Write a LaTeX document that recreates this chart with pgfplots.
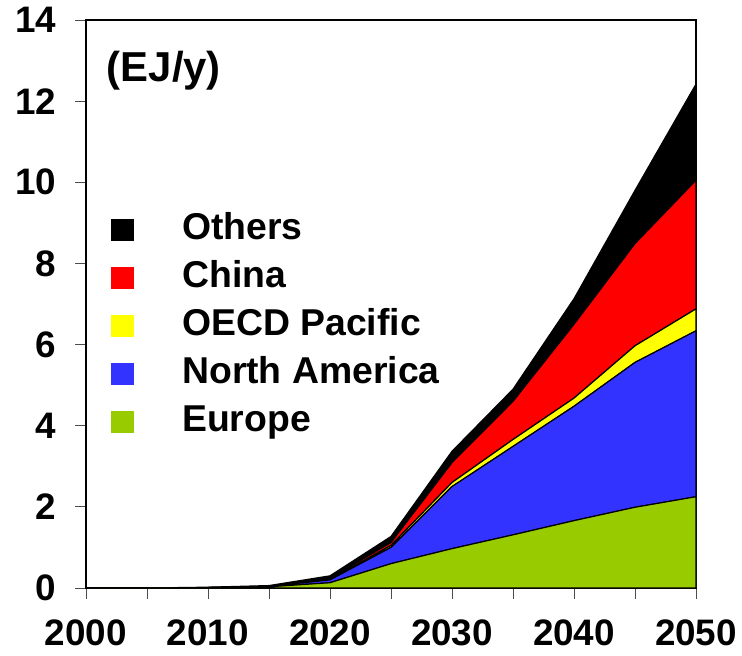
\documentclass[border=0pt]{standalone}
\usepackage{fontspec}
\setmainfont{Liberation Sans}
\usepackage{pgfplots}
\pgfplotsset{compat=1.18}
\usetikzlibrary{calc}
\definecolor{eu}{RGB}{153,204,0}
\definecolor{na}{RGB}{51,51,255}
\definecolor{oe}{RGB}{255,255,0}
\definecolor{cn}{RGB}{255,0,0}
\newcommand{\bigf}{\fontsize{37}{41}\selectfont\bfseries}
\newcommand{\legf}{\fontsize{37.5}{41}\selectfont\bfseries}
\begin{document}
\begin{tikzpicture}
\begin{axis}[
  name=ax,
  scale only axis,
  width=610bp, height=568bp,
  xmin=2000, xmax=2050, ymin=0, ymax=14,
  stack plots=y,
  axis line style={line width=1.6pt, black},
  xtick={2000,2010,...,2050},
  minor xtick={2005,2015,...,2045},
  ytick={0,2,...,14},
  tick align=outside,
  xtick pos=bottom, ytick pos=left,
  major tick length=11bp, minor tick length=11bp,
  tick style={line width=0.8pt, black!70},
  /pgf/number format/assume math mode=true,
  /pgf/number format/set thousands separator={},
  tick label style={font=\bigf},
  xticklabel style={yshift=-17bp},
  yticklabel style={xshift=-15bp},
  legend cell align=left,
  reverse legend,
  legend style={draw=none, fill=none, at={(0.041,0.664)}, anchor=north west,
    font=\legf, row sep=11bp, inner sep=0pt,
    nodes={inner sep=2bp, text height=26bp, text depth=7bp}},
  legend image code/.code={\fill[#1,draw=none] (0bp,-11bp) rectangle (23bp,11bp); \path[draw=none,fill=none] (0bp,0bp) -- (69bp,0bp);},
]
\addplot[fill=eu, draw=black, line width=1.2pt] coordinates {(2000,0) (2005,0) (2010,0.01) (2015,0.03) (2020,0.13) (2025,0.6) (2030,0.97) (2035,1.31) (2040,1.66) (2045,1.99) (2050,2.25)} \closedcycle;
\addlegendentry{Europe}
\addplot[fill=na, draw=black, line width=1.2pt] coordinates {(2000,0) (2005,0) (2010,0) (2015,0.01) (2020,0.07) (2025,0.4) (2030,1.53) (2035,2.18) (2040,2.82) (2045,3.57) (2050,4.09)} \closedcycle;
\addlegendentry{North America}
\addplot[fill=oe, draw=black, line width=1.2pt] coordinates {(2000,0) (2005,0) (2010,0) (2015,0) (2020,0.01) (2025,0.05) (2030,0.1) (2035,0.17) (2040,0.2) (2045,0.41) (2050,0.54)} \closedcycle;
\addlegendentry{OECD Pacific}
\addplot[fill=cn, draw=black, line width=1.2pt] coordinates {(2000,0) (2005,0) (2010,0) (2015,0) (2020,0.03) (2025,0.07) (2030,0.49) (2035,0.94) (2040,1.82) (2045,2.52) (2050,3.17)} \closedcycle;
\addlegendentry{China}
\addplot[fill=black, draw=black, line width=1.2pt] coordinates {(2000,0) (2005,0) (2010,0.01) (2015,0.02) (2020,0.06) (2025,0.15) (2030,0.28) (2035,0.3) (2040,0.63) (2045,1.31) (2050,2.37)} \closedcycle;
\addlegendentry{Others}
\node[anchor=west, font=\fontsize{42}{46}\selectfont\bfseries, inner sep=0pt] at (rel axis cs:0.034,0.910) {(EJ/y)};
\end{axis}
\pgfresetboundingbox
\path ($(ax.south west)+(-86bp,-67bp)$) rectangle ($(ax.north east)+(46bp,20bp)$);
\end{tikzpicture}
\end{document}
